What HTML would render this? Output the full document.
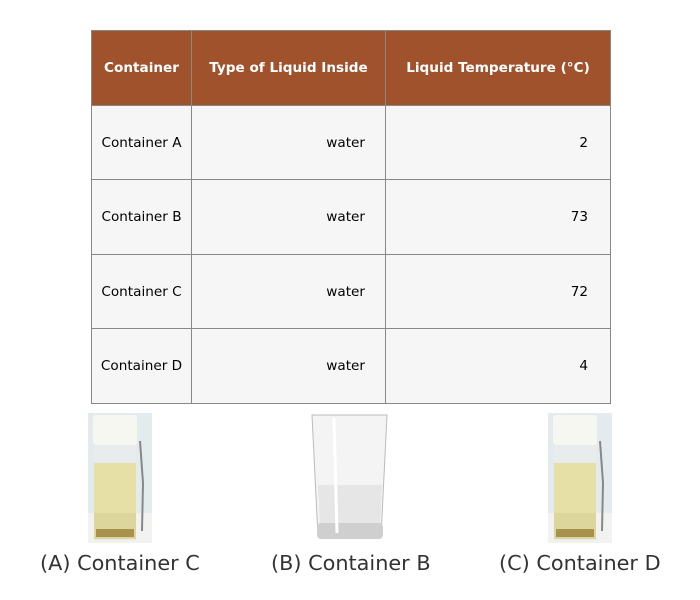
<!DOCTYPE html>
<html><head><meta charset="utf-8"><style>
body{margin:0;width:700px;height:600px;background:#fff;font-family:"DejaVu Sans","Liberation Sans",sans-serif;position:relative;overflow:hidden}
table{position:absolute;left:91px;top:30px;border-collapse:collapse;font-size:13.6px;table-layout:fixed;width:519px}
td,th{border:1px solid #888;height:74px;padding:0;box-sizing:border-box}
th{background:#a0522d;color:#fff;font-weight:bold;height:75px}
td{background:#f6f6f6;color:#000}
.c1{width:100px;text-align:center}
.c2{width:194px;text-align:right;padding-right:20px}
.c3{width:225px;text-align:right;padding-right:22px}
th.c2,th.c3{text-align:center;padding-right:0}
.lbl{position:absolute;top:551px;font-size:20.8px;color:#333;white-space:nowrap;font-family:"DejaVu Sans","Liberation Sans",sans-serif}
.img{position:absolute;top:413px}
</style></head><body>
<table>
<tr><th class="c1">Container</th><th class="c2">Type of Liquid Inside</th><th class="c3">Liquid Temperature (°C)</th></tr>
<tr><td class="c1" style="height:74px">Container A</td><td class="c2">water</td><td class="c3">2</td></tr>
<tr><td class="c1" style="height:75px">Container B</td><td class="c2">water</td><td class="c3">73</td></tr>
<tr><td class="c1" style="height:74px">Container C</td><td class="c2">water</td><td class="c3">72</td></tr>
<tr><td class="c1" style="height:75px">Container D</td><td class="c2">water</td><td class="c3">4</td></tr>
</table>

<svg class="img" style="left:88px" width="64" height="130">
<rect width="64" height="130" fill="#e4ebef"/><rect y="100" width="64" height="30" fill="#f2f2f0"/>
<rect x="5" y="2" width="44" height="30" rx="3" fill="#f7f7f2"/>
<rect x="6" y="32" width="42" height="96" fill="#e8ecec" opacity="0.8"/>
<rect x="6" y="50" width="42" height="76" fill="#e6dfa6"/>
<rect x="6" y="100" width="42" height="26" fill="#dcd59c"/>
<rect x="8" y="116" width="38" height="8" fill="#a7914c"/>
<path d="M52 28 L55 70 L54 118" stroke="#888" stroke-width="2" fill="none"/>
</svg>
<svg class="img" style="left:309px" width="81" height="130">
<path d="M3 2 L78 2 L72 124 L9 124 Z" fill="#f4f4f4" stroke="#bbb"/>
<path d="M9 72 L73 72 L71 112 L11 112 Z" fill="#e6e6e6"/>
<rect x="8" y="110" width="66" height="16" rx="4" fill="#cfcfcf"/>
<line x1="25" y1="5" x2="28" y2="120" stroke="#fff" stroke-width="3"/>
</svg>
<svg class="img" style="left:548px" width="64" height="130">
<rect width="64" height="130" fill="#e4ebef"/><rect y="100" width="64" height="30" fill="#f2f2f0"/>
<rect x="5" y="2" width="44" height="30" rx="3" fill="#f7f7f2"/>
<rect x="6" y="32" width="42" height="96" fill="#e8ecec" opacity="0.8"/>
<rect x="6" y="50" width="42" height="76" fill="#e6dfa6"/>
<rect x="6" y="100" width="42" height="26" fill="#dcd59c"/>
<rect x="8" y="116" width="38" height="8" fill="#a7914c"/>
<path d="M52 28 L55 70 L54 118" stroke="#888" stroke-width="2" fill="none"/>
</svg>

<div class="lbl" style="left:40px">(A) Container C</div>
<div class="lbl" style="left:271px">(B) Container B</div>
<div class="lbl" style="left:499px">(C) Container D</div>
</body></html>
